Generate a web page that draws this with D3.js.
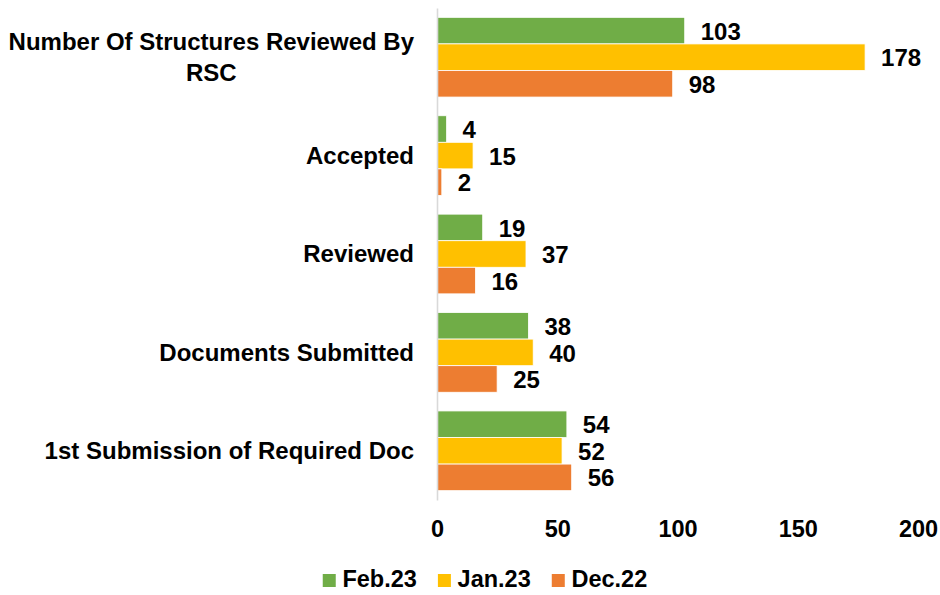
<!DOCTYPE html>
<html>
<head>
<meta charset="utf-8">
<script src="https://cdn.jsdelivr.net/npm/d3@7/dist/d3.min.js"></script>
<style>
  body { margin: 0; background: #fff; }
  svg text { font-family: "Liberation Sans", Arial, sans-serif; font-weight: bold; fill: #000; }
</style>
</head>
<body>
<div id="chart"></div>
<script>
// data
var categories = ["Number Of Structures Reviewed By RSC", "Accepted", "Reviewed", "Documents Submitted", "1st Submission of Required Doc"];
var seriesNames = ["Feb.23", "Jan.23", "Dec.22"];
var feb23 = [103, 4, 19, 38, 54];
var jan23 = [178, 15, 37, 40, 52];
var dec22 = [98, 2, 16, 25, 56];
var xTicks = [0, 50, 100, 150, 200];
var colors = ["#70AD47", "#FFC000", "#ED7D31"];

var width = 940, height = 595;
var seriesValues = [feb23, jan23, dec22];

var svg = d3.select("#chart").append("svg")
  .attr("width", width)
  .attr("height", height);

var x = d3.scaleLinear().domain([0, 200]).range([437, 918]);

var y0 = d3.scaleBand()
  .domain(categories)
  .range([8, 500])
  .paddingInner(0.19)
  .paddingOuter(0.095);

var y1 = d3.scaleBand()
  .domain(seriesNames)
  .range([0, y0.bandwidth()]);

var color = d3.scaleOrdinal().domain(seriesNames).range(colors);

// rows: one per category, holding its three values
var rows = categories.map(function(c, i) {
  return {
    label: c,
    values: seriesNames.map(function(s, j) {
      return { name: s, value: seriesValues[j][i] };
    })
  };
});

var group = svg.selectAll(".group")
  .data(rows)
  .enter().append("g")
  .attr("class", "group")
  .attr("transform", function(d) { return "translate(0," + y0(d.label) + ")"; });

group.selectAll("rect")
  .data(function(d) { return d.values; })
  .enter().append("rect")
  .attr("x", x(0))
  .attr("y", function(d) { return y1(d.name); })
  .attr("width", function(d) { return x(d.value) - x(0); })
  .attr("height", y1.bandwidth())
  .attr("fill", function(d) { return color(d.name); })
  .attr("stroke", "#fff")
  .attr("stroke-width", 0.8);

group.selectAll(".val")
  .data(function(d) { return d.values; })
  .enter().append("text")
  .attr("class", "val")
  .attr("x", function(d) { return x(d.value) + 16; })
  .attr("y", function(d) { return y1(d.name) + y1.bandwidth() / 2; })
  .attr("dy", "0.38em")
  .style("font-size", "24px")
  .text(function(d) { return d.value; });

// vertical axis line (no ticks)
svg.append("g")
  .attr("transform", "translate(" + x(0) + ",0)")
  .call(d3.axisLeft(y0).tickSize(0).tickFormat(""))
  .call(function(g) {
    g.select(".domain").attr("stroke", "#d9d9d9").attr("stroke-width", 1.6);
  });

// category labels, wrapped, right edge at 414
var labelRight = 414, maxW = 420;
rows.forEach(function(d) {
  var t = svg.append("text").style("font-size", "24px");
  var words = d.label.split(" "), lines = [], line = [];
  var probe = t.append("tspan");
  words.forEach(function(w) {
    line.push(w);
    probe.text(line.join(" "));
    if (probe.node().getComputedTextLength() > maxW && line.length > 1) {
      line.pop();
      lines.push(line.join(" "));
      line = [w];
    }
  });
  lines.push(line.join(" "));
  probe.remove();
  var lh = 30.7;
  var cy = y0(d.label) + y0.bandwidth() / 2;
  var spans = lines.map(function(l, i) {
    return t.append("tspan")
      .attr("y", cy + (i - (lines.length - 1) / 2) * lh)
      .attr("dy", "0.35em")
      .text(l);
  });
  var wMax = d3.max(spans, function(s) { return s.node().getComputedTextLength(); });
  spans.forEach(function(s) {
    s.attr("x", labelRight - wMax / 2).attr("text-anchor", "middle");
  });
});

// x axis tick labels
svg.append("g")
  .attr("transform", "translate(0,520.3)")
  .call(d3.axisBottom(x).tickValues(xTicks).tickSize(0).tickPadding(0))
  .call(function(g) {
    g.select(".domain").remove();
    g.selectAll("text")
      .attr("fill", "#000")
      .style("font-family", "\"Liberation Sans\", Arial, sans-serif")
      .style("font-weight", "bold")
      .style("font-size", "23.5px");
  });

// legend
var legend = svg.append("g").attr("class", "legend");
var items = legend.selectAll(".item")
  .data(seriesNames)
  .enter().append("g")
  .attr("class", "item");
items.append("rect")
  .attr("width", 13)
  .attr("height", 13)
  .attr("y", 574)
  .attr("fill", function(d) { return color(d); });
items.append("text")
  .attr("x", 19.7)
  .attr("y", 587)
  .style("font-size", "23.5px")
  .text(function(d) { return d; });

var gap = 21;
var widths = items.nodes().map(function(n) { return n.getBBox().width; });
var total = d3.sum(widths) + gap * (widths.length - 1);
var offset = 485 - total / 2;
items.attr("transform", function(d, i) {
  var tx = offset;
  offset += widths[i] + gap;
  return "translate(" + tx + ",0)";
});
</script>
</body>
</html>
